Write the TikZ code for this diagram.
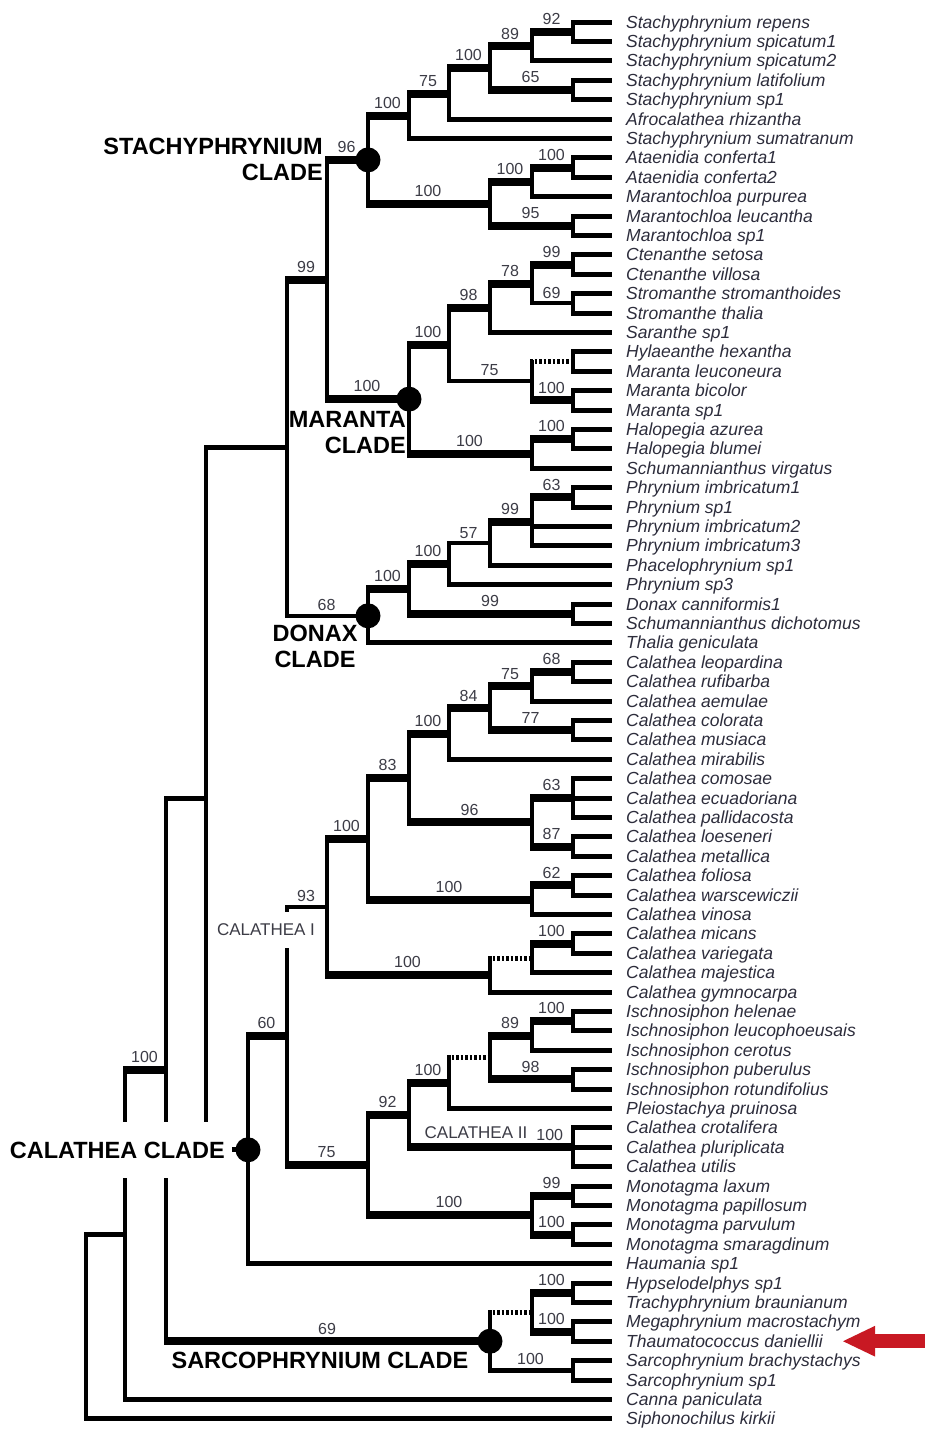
\documentclass[tikz,border=0pt]{standalone}
\usepackage{fontspec}
\setmainfont{Liberation Sans}
\usetikzlibrary{arrows.meta,calc}
\definecolor{txt}{RGB}{45,45,60}
\definecolor{bsc}{RGB}{60,60,70}
\definecolor{arrowred}{RGB}{200,25,35}
\newcommand{\vbr}[3]{\draw[vln] (#1 |- #2) -- (#1 |- #3);}
\newcommand{\hbr}[4][]{\draw[hln,#1] (#2 |- #3) ++(-2,0) -- node[bs]{#4} (#3);}
\newcommand{\tipbr}[2]{\draw[hln] (#1 |- #2) ++(-2,0) -- (#2);}
\begin{document}
\begin{tikzpicture}[x=1pt,y=-1pt,
  vln/.style={line width=4pt,line cap=rect},
  hln/.style={line width=5pt,line cap=butt},
  thk/.style={line width=8pt},
  thn/.style={line width=4pt},
  dots/.style={line width=5pt,dash pattern=on 2.5pt off 2pt},
  bs/.style={above,inner sep=0pt,yshift=3pt,font=\fontsize{16}{16}\selectfont,text=bsc},
  leaf/.style={anchor=base west,inner sep=0pt,font=\fontsize{17.5}{17.5}\selectfont\itshape,text=txt},
  clade/.style={font=\fontsize{23.5}{26}\selectfont\bfseries,text=black,inner sep=0pt},
  sub/.style={font=\fontsize{17}{17}\selectfont,text=bsc,inner sep=0pt},
  dot/.style={circle,fill=black,minimum size=25pt,inner sep=0pt}]
\fill[white] (0,0) rectangle (925,1430);
\useasboundingbox (0,0) rectangle (925,1430);

% ---------- leaves ----------
\foreach \i/\nm in {1/Stachyphrynium repens,2/Stachyphrynium spicatum1,3/Stachyphrynium spicatum2,
 4/Stachyphrynium latifolium,5/Stachyphrynium sp1,6/Afrocalathea rhizantha,7/Stachyphrynium sumatranum,
 8/Ataenidia conferta1,9/Ataenidia conferta2,10/Marantochloa purpurea,11/Marantochloa leucantha,
 12/Marantochloa sp1,13/Ctenanthe setosa,14/Ctenanthe villosa,15/Stromanthe stromanthoides,
 16/Stromanthe thalia,17/Saranthe sp1,18/Hylaeanthe hexantha,19/Maranta leuconeura,20/Maranta bicolor,
 21/Maranta sp1,22/Halopegia azurea,23/Halopegia blumei,24/Schumannianthus virgatus,
 25/Phrynium imbricatum1,26/Phrynium sp1,27/Phrynium imbricatum2,28/Phrynium imbricatum3,
 29/Phacelophrynium sp1,30/Phrynium sp3,31/Donax canniformis1,32/Schumannianthus dichotomus,
 33/Thalia geniculata,34/Calathea leopardina,35/Calathea rufibarba,36/Calathea aemulae,
 37/Calathea colorata,38/Calathea musiaca,39/Calathea mirabilis,40/Calathea comosae,
 41/Calathea ecuadoriana,42/Calathea pallidacosta,43/Calathea loeseneri,44/Calathea metallica,
 45/Calathea foliosa,46/Calathea warscewiczii,47/Calathea vinosa,48/Calathea micans,
 49/Calathea variegata,50/Calathea majestica,51/Calathea gymnocarpa,52/Ischnosiphon helenae,
 53/Ischnosiphon leucophoeusais,54/Ischnosiphon cerotus,55/Ischnosiphon puberulus,
 56/Ischnosiphon rotundifolius,57/Pleiostachya pruinosa,58/Calathea crotalifera,
 59/Calathea pluriplicata,60/Calathea utilis,61/Monotagma laxum,62/Monotagma papillosum,
 63/Monotagma parvulum,64/Monotagma smaragdinum,65/Haumania sp1,66/Hypselodelphys sp1,
 67/Trachyphrynium braunianum,68/Megaphrynium macrostachym,69/Thaumatococcus daniellii,
 70/Sarcophrynium brachystachys,71/Sarcophrynium sp1,72/Canna paniculata,73/Siphonochilus kirkii}{
  \pgfmathsetmacro{\yy}{22+(\i-1)*19.4}
  \coordinate (L\i) at (612,\yy);
  \node[leaf] (t\i) at ([xshift=14pt,yshift=-6pt]L\i) {\nm};
}

% ---------- internal nodes ----------
\coordinate (nS5) at (573,31.7);
\coordinate (nS4) at (532,46.25);
\coordinate (nS6) at (573,89.9);
\coordinate (nS3) at (490,68.075);
\coordinate (nS2) at (449,93.54);
\coordinate (nS1) at (409,115.97);
\coordinate (nS9) at (573,167.5);
\coordinate (nS8) at (532,182.05);
\coordinate (nS10) at (573,225.7);
\coordinate (nS7) at (490,203.875);
\coordinate (nS) at (368,159.92);
\coordinate (nM4) at (573,264.5);
\coordinate (nM5) at (573,303.3);
\coordinate (nM3) at (532,283.9);
\coordinate (nM2) at (490,308.15);
\coordinate (nM7) at (573,361.5);
\coordinate (nM8) at (573,400.3);
\coordinate (nM6) at (532,380.9);
\coordinate (nM1) at (449,344.525);
\coordinate (nM10) at (573,439.1);
\coordinate (nM9) at (532,453.65);
\coordinate (nM) at (409,399.09);
\coordinate (nE) at (327,279.5);
\coordinate (nDn5) at (573,497.3);
\coordinate (nDn4) at (532,521.55);
\coordinate (nDn3) at (490,543.375);
\coordinate (nDn2) at (449,563.99);
\coordinate (nDn6) at (573,613.7);
\coordinate (nDn1) at (409,588.84);
\coordinate (nDn) at (368,615.82);
\coordinate (nD) at (287,447.66);
\coordinate (nC68) at (573,671.9);
\coordinate (nC75) at (532,686.45);
\coordinate (nC77) at (573,730.1);
\coordinate (nC84) at (490,708.275);
\coordinate (nC100c) at (449,733.74);
\coordinate (nC63) at (573,798);
\coordinate (nC87) at (573,846.5);
\coordinate (nC96) at (532,822.25);
\coordinate (nC83) at (409,777.99);
\coordinate (nC62) at (573,885.3);
\coordinate (nC100d) at (532,899.85);
\coordinate (nC100a) at (368,838.92);
\coordinate (nC100e) at (573,943.5);
\coordinate (nCdot) at (532,958.05);
\coordinate (nC100b) at (490,975.025);
\coordinate (nC93) at (327,906.97);
\coordinate (nC100g) at (573,1021.1);
\coordinate (nC89) at (532,1035.65);
\coordinate (nC98) at (573,1079.3);
\coordinate (nCi) at (490,1057.475);
\coordinate (nC100f) at (449,1082.94);
\coordinate (nC100h) at (573,1147.2);
\coordinate (nC92) at (409,1115.07);
\coordinate (nC99) at (573,1195.7);
\coordinate (nC100j) at (573,1234.5);
\coordinate (nC100i) at (532,1215.1);
\coordinate (nC75b) at (368,1165.08);
\coordinate (nC60) at (287,1036.03);
\coordinate (nCC) at (248,1149.82);
\coordinate (nSCb) at (573,1292.7);
\coordinate (nSCc) at (573,1331.5);
\coordinate (nSCa) at (532,1312.1);
\coordinate (nSCd) at (573,1370.3);
\coordinate (nSC) at (490,1341.2);
\coordinate (nC) at (206,798.74);
\coordinate (nB) at (166,1069.97);
\coordinate (nA) at (125,1234.68);
\coordinate (nR) at (86,1320);

% ---------- Stachyphrynium clade ----------
\vbr{nS5}{L1}{L2} \tipbr{nS5}{L1} \tipbr{nS5}{L2}
\vbr{nS4}{nS5}{L3} \hbr[thk]{nS4}{nS5}{92} \tipbr{nS4}{L3}
\vbr{nS6}{L4}{L5} \tipbr{nS6}{L4} \tipbr{nS6}{L5}
\vbr{nS3}{nS4}{nS6} \hbr[thk]{nS3}{nS4}{89} \hbr[thk]{nS3}{nS6}{65}
\vbr{nS2}{nS3}{L6} \hbr[thk]{nS2}{nS3}{100} \tipbr{nS2}{L6}
\vbr{nS1}{nS2}{L7} \hbr[thk]{nS1}{nS2}{75} \tipbr{nS1}{L7}
\vbr{nS9}{L8}{L9} \tipbr{nS9}{L8} \tipbr{nS9}{L9}
\vbr{nS8}{nS9}{L10} \hbr[thk]{nS8}{nS9}{100} \tipbr{nS8}{L10}
\vbr{nS10}{L11}{L12} \tipbr{nS10}{L11} \tipbr{nS10}{L12}
\vbr{nS7}{nS8}{nS10} \hbr[thk]{nS7}{nS8}{100} \hbr[thk]{nS7}{nS10}{95}
\vbr{nS}{nS1}{nS7} \hbr[thk]{nS}{nS1}{100} \hbr[thk]{nS}{nS7}{100}

% ---------- Maranta clade ----------
\vbr{nM4}{L13}{L14} \tipbr{nM4}{L13} \tipbr{nM4}{L14}
\vbr{nM5}{L15}{L16} \tipbr{nM5}{L15} \tipbr{nM5}{L16}
\vbr{nM3}{nM4}{nM5} \hbr[thk]{nM3}{nM4}{99} \hbr[thn]{nM3}{nM5}{69}
\vbr{nM2}{nM3}{L17} \hbr[thk]{nM2}{nM3}{78} \tipbr{nM2}{L17}
\vbr{nM7}{L18}{L19} \tipbr{nM7}{L18} \tipbr{nM7}{L19}
\vbr{nM8}{L20}{L21} \tipbr{nM8}{L20} \tipbr{nM8}{L21}
\vbr{nM6}{nM7}{nM8} \hbr[dots]{nM6}{nM7}{} \hbr[thk]{nM6}{nM8}{100}
\vbr{nM1}{nM2}{nM6} \hbr[thk]{nM1}{nM2}{98} \hbr[thn]{nM1}{nM6}{75}
\vbr{nM10}{L22}{L23} \tipbr{nM10}{L22} \tipbr{nM10}{L23}
\vbr{nM9}{nM10}{L24} \hbr[thk]{nM9}{nM10}{100} \tipbr{nM9}{L24}
\vbr{nM}{nM1}{nM9} \hbr[thk]{nM}{nM1}{100} \hbr[thk]{nM}{nM9}{100}
\vbr{nE}{nS}{nM} \hbr[thk]{nE}{nS}{96} \hbr[thk]{nE}{nM}{100}

% ---------- Donax clade ----------
\vbr{nDn5}{L25}{L26} \tipbr{nDn5}{L25} \tipbr{nDn5}{L26}
\vbr{nDn4}{nDn5}{L28} \hbr[thk]{nDn4}{nDn5}{63} \tipbr{nDn4}{L27} \tipbr{nDn4}{L28}
\vbr{nDn3}{nDn4}{L29} \hbr[thk]{nDn3}{nDn4}{99} \tipbr{nDn3}{L29}
\vbr{nDn2}{nDn3}{L30} \hbr[thn]{nDn2}{nDn3}{57} \tipbr{nDn2}{L30}
\vbr{nDn6}{L31}{L32} \tipbr{nDn6}{L31} \tipbr{nDn6}{L32}
\vbr{nDn1}{nDn2}{nDn6} \hbr[thk]{nDn1}{nDn2}{100} \hbr[thk]{nDn1}{nDn6}{99}
\vbr{nDn}{nDn1}{L33} \hbr[thk]{nDn}{nDn1}{100} \tipbr{nDn}{L33}
\vbr{nD}{nE}{nDn} \hbr[thk]{nD}{nE}{99} \hbr[thn]{nD}{nDn}{68}

% ---------- Calathea clade ----------
\vbr{nC68}{L34}{L35} \tipbr{nC68}{L34} \tipbr{nC68}{L35}
\vbr{nC75}{nC68}{L36} \hbr[thk]{nC75}{nC68}{68} \tipbr{nC75}{L36}
\vbr{nC77}{L37}{L38} \tipbr{nC77}{L37} \tipbr{nC77}{L38}
\vbr{nC84}{nC75}{nC77} \hbr[thk]{nC84}{nC75}{75} \hbr[thk]{nC84}{nC77}{77}
\vbr{nC100c}{nC84}{L39} \hbr[thk]{nC100c}{nC84}{84} \tipbr{nC100c}{L39}
\vbr{nC63}{L40}{L42} \tipbr{nC63}{L40} \tipbr{nC63}{L41} \tipbr{nC63}{L42}
\vbr{nC87}{L43}{L44} \tipbr{nC87}{L43} \tipbr{nC87}{L44}
\vbr{nC96}{nC63}{nC87} \hbr[thk]{nC96}{nC63}{63} \hbr[thk]{nC96}{nC87}{87}
\vbr{nC83}{nC100c}{nC96} \hbr[thk]{nC83}{nC100c}{100} \hbr[thk]{nC83}{nC96}{96}
\vbr{nC62}{L45}{L46} \tipbr{nC62}{L45} \tipbr{nC62}{L46}
\vbr{nC100d}{nC62}{L47} \hbr[thk]{nC100d}{nC62}{62} \tipbr{nC100d}{L47}
\vbr{nC100a}{nC83}{nC100d} \hbr[thk]{nC100a}{nC83}{83} \hbr[thk]{nC100a}{nC100d}{100}
\vbr{nC100e}{L48}{L49} \tipbr{nC100e}{L48} \tipbr{nC100e}{L49}
\vbr{nCdot}{nC100e}{L50} \hbr[thk]{nCdot}{nC100e}{100} \tipbr{nCdot}{L50}
\vbr{nC100b}{nCdot}{L51} \hbr[dots]{nC100b}{nCdot}{} \tipbr{nC100b}{L51}
\vbr{nC93}{nC100a}{nC100b} \hbr[thk]{nC93}{nC100a}{100} \hbr[thk]{nC93}{nC100b}{100}
\vbr{nC100g}{L52}{L53} \tipbr{nC100g}{L52} \tipbr{nC100g}{L53}
\vbr{nC89}{nC100g}{L54} \hbr[thk]{nC89}{nC100g}{100} \tipbr{nC89}{L54}
\vbr{nC98}{L55}{L56} \tipbr{nC98}{L55} \tipbr{nC98}{L56}
\vbr{nCi}{nC89}{nC98} \hbr[thk]{nCi}{nC89}{89} \hbr[thk]{nCi}{nC98}{98}
\vbr{nC100f}{nCi}{L57} \hbr[dots]{nC100f}{nCi}{} \tipbr{nC100f}{L57}
\vbr{nC100h}{L58}{L60} \tipbr{nC100h}{L58} \tipbr{nC100h}{L59} \tipbr{nC100h}{L60}
\vbr{nC92}{nC100f}{nC100h} \hbr[thk]{nC92}{nC100f}{100} \hbr[thk,nodes={pos=.86}]{nC92}{nC100h}{100}
\vbr{nC99}{L61}{L62} \tipbr{nC99}{L61} \tipbr{nC99}{L62}
\vbr{nC100j}{L63}{L64} \tipbr{nC100j}{L63} \tipbr{nC100j}{L64}
\vbr{nC100i}{nC99}{nC100j} \hbr[thk]{nC100i}{nC99}{99} \hbr[thk]{nC100i}{nC100j}{100}
\vbr{nC75b}{nC92}{nC100i} \hbr[thk]{nC75b}{nC92}{92} \hbr[thk]{nC75b}{nC100i}{100}
\vbr{nC60}{nC93}{nC75b} \hbr[thn]{nC60}{nC93}{93} \hbr[thk]{nC60}{nC75b}{75}
\vbr{nCC}{nC60}{L65} \hbr[thk]{nCC}{nC60}{60} \tipbr{nCC}{L65}

% ---------- Sarcophrynium clade ----------
\vbr{nSCb}{L66}{L67} \tipbr{nSCb}{L66} \tipbr{nSCb}{L67}
\vbr{nSCc}{L68}{L69} \tipbr{nSCc}{L68} \tipbr{nSCc}{L69}
\vbr{nSCa}{nSCb}{nSCc} \hbr[thk]{nSCa}{nSCb}{100} \hbr[thk]{nSCa}{nSCc}{100}
\vbr{nSCd}{L70}{L71} \tipbr{nSCd}{L70} \tipbr{nSCd}{L71}
\vbr{nSC}{nSCa}{nSCd} \hbr[dots]{nSC}{nSCa}{} \hbr{nSC}{nSCd}{100}

% ---------- backbone ----------
\vbr{nC}{nD}{nCC} \hbr{nC}{nD}{} \hbr{nC}{nCC}{}
\vbr{nB}{nC}{nSC} \hbr{nB}{nC}{} \hbr[thk]{nB}{nSC}{69}
\vbr{nA}{nB}{L72} \hbr[thk]{nA}{nB}{100} \tipbr{nA}{L72}
\vbr{nR}{nA}{L73} \hbr{nR}{nA}{} \tipbr{nR}{L73}

% ---------- labels ----------
\node[clade,align=right,anchor=east] (stlab) at (323,159) {STACHYPHRYNIUM\\CLADE};
\node[clade,align=right,anchor=east] (malab) at (406,433) {MARANTA\\CLADE};
\node[clade,align=center] (dolab) at (315,646) {DONAX\\CLADE};
\node[clade,fill=white,anchor=east,inner xsep=7pt,minimum height=56pt] (calab) at (232,1150) {CALATHEA CLADE};
\node[clade] (salab) at (320,1360) {SARCOPHRYNIUM CLADE};
\node[sub,fill=white,inner xsep=2pt,minimum height=36pt] (cal1) at (266,930) {CALATHEA I};
\node[sub] (cal2) at (476,1133) {CALATHEA II};

% ---------- clade dots ----------
\node[dot] (dS) at (nS) {};
\node[dot] (dM) at (nM) {};
\node[dot] (dDn) at (nDn) {};
\node[dot] (dCC) at (nCC) {};
\node[dot] (dSC) at (nSC) {};

% ---------- red arrow ----------
\coordinate (atail) at (925,1341.2);
\coordinate (ahead) at (842,1341.2);
\draw[arrowred,line width=14pt,-{Triangle[length=33pt,width=28pt]}] (atail) -- (ahead);
\end{tikzpicture}
\end{document}
